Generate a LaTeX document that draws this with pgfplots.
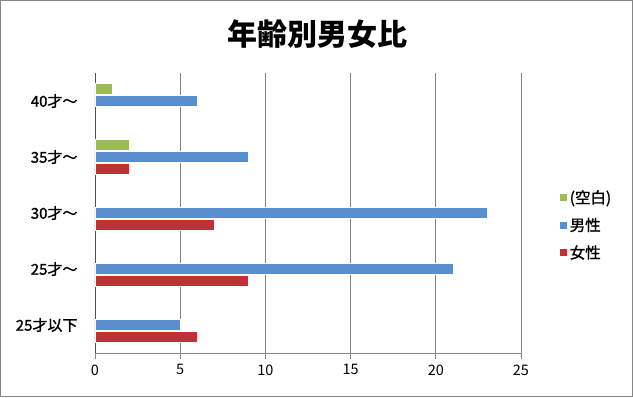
\documentclass[border=0pt]{standalone}
\usepackage{pgfplots}
\pgfplotsset{compat=1.18}
\usepackage{fontspec}
\setmainfont{Noto Sans CJK JP}
\newfontfamily\medfont{Noto Sans CJK JP}[FakeBold=1.3]
\definecolor{cgreen}{RGB}{155,187,89}
\definecolor{cblue}{RGB}{88,143,204}
\definecolor{cred}{RGB}{192,48,56}
\definecolor{cgrid}{RGB}{134,134,134}
\begin{document}
\begin{tikzpicture}
\draw[cgrid,line width=1.2pt] (0.6pt,-0.6pt) rectangle (632.4pt,-396.4pt);
\node[font=\fontsize{30}{34}\selectfont\bfseries] at (317pt,-34pt) {年齢別男女比};
\begin{axis}[
  at={(95pt,-353pt)}, anchor=south west,
  scale only axis, width=426pt, height=280pt,
  xbar, bar width=11.5pt,
  xmin=0, xmax=25, ymin=-0.5, ymax=4.5,
  axis x line*=bottom, axis y line*=left,
  x axis line style={draw=cgrid,line width=0.8pt},
  y axis line style={draw=cgrid!60!black,line width=0.8pt},
  xtick={0,5,10,15,20,25},
  ytick={0,1,2,3,4},
  yticklabels={25才以下,25才～,30才～,35才～,40才～},
  xmajorgrids, grid style={cgrid,line width=0.7pt},
  tick align=outside, major tick length=6pt,
  xtick style={cgrid,line width=0.7pt},
  ytick style={draw=none},
  /pgf/number format/assume math mode=true,
  xticklabel style={font=\fontsize{14.5}{16}\selectfont, yshift=-2pt},
  yticklabel style={font=\medfont\fontsize{15}{17}\selectfont, xshift=-8pt},
  legend style={draw=none, fill=none, at={(1.082,0.457)}, anchor=west,
    font=\medfont\fontsize{15.5}{17}\selectfont, row sep=9pt,
    legend cell align=left},
  legend image code/.code={\fill[#1] (0pt,-4pt) rectangle (8pt,4pt);},
]
\addplot[fill=cgreen, draw=white, line width=0.6pt, bar shift=12pt] coordinates {(1,4) (2,3)};
\addplot[fill=cblue, draw=white, line width=0.6pt, bar shift=0pt] coordinates {(5,0) (21,1) (23,2) (9,3) (6,4)};
\addplot[fill=cred, draw=white, line width=0.6pt, bar shift=-12pt] coordinates {(6,0) (9,1) (7,2) (2,3)};
\legend{(空白),男性,女性}
\end{axis}
\end{tikzpicture}
\end{document}
